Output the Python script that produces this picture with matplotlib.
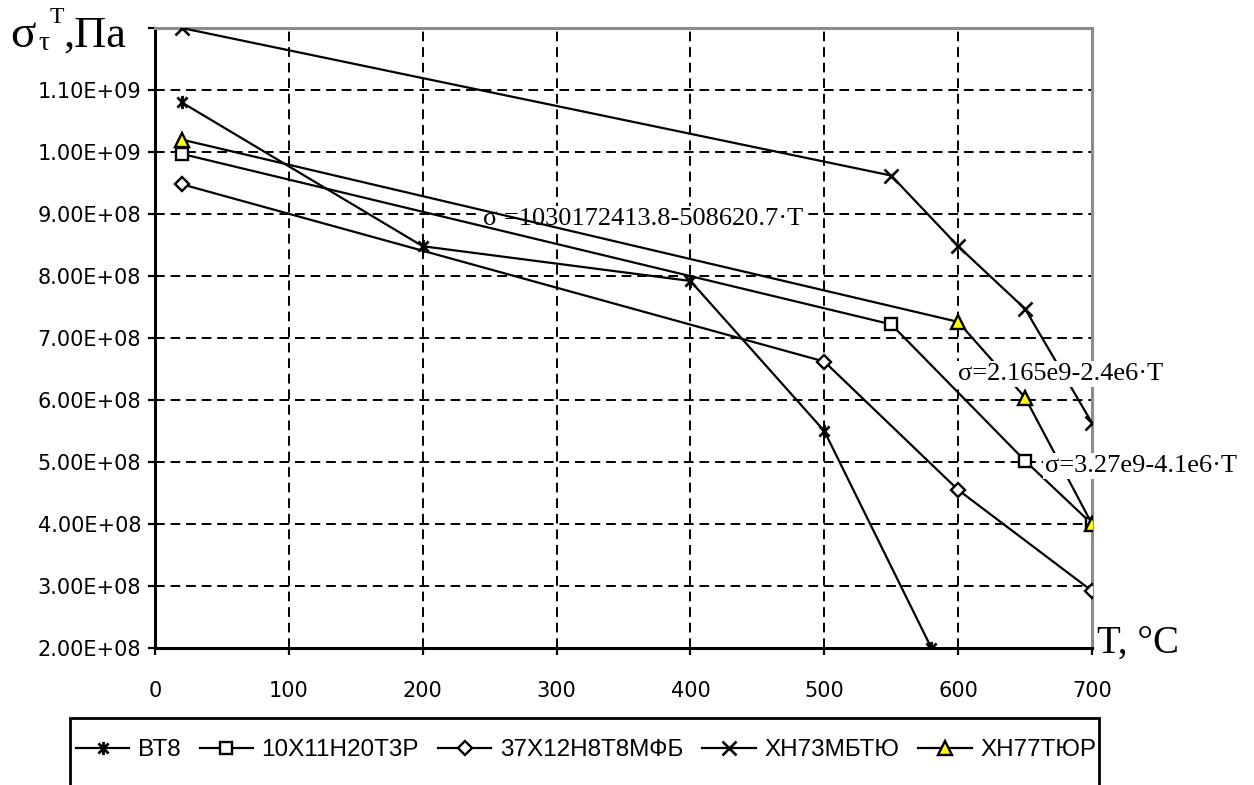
import matplotlib
matplotlib.use("Agg")
import matplotlib.pyplot as plt
from matplotlib.path import Path
from matplotlib.patches import Rectangle
from matplotlib.ticker import FixedLocator

# ---- data ----
t_vt8 = [20, 200, 400, 500, 580]
s_vt8 = [1.08e9, 8.48e8, 7.92e8, 5.5e8, 2.0e8]

t_10x = [20, 550, 650, 700]
s_10x = [9.97e8, 7.22e8, 5.02e8, 4.0e8]

t_37x = [20, 500, 600, 700]
s_37x = [9.48e8, 6.62e8, 4.55e8, 2.92e8]

t_xh73 = [20, 550, 600, 650, 700]
s_xh73 = [1.2e9, 9.62e8, 8.48e8, 7.47e8, 5.63e8]

t_xh77 = [20, 600, 650, 700]
s_xh77 = [1.02e9, 7.26e8, 6.04e8, 4.0e8]

labels = ["ВТ8", "10Х11Н20Т3Р", "37Х12Н8Т8МФБ", "ХН73МБТЮ", "ХН77ТЮР"]

x_ticks = [0, 100, 200, 300, 400, 500, 600, 700]
y_ticks = [2e8, 3e8, 4e8, 5e8, 6e8, 7e8, 8e8, 9e8, 1.0e9, 1.1e9, 1.2e9]

fits = [
    (245, 8.82e8, "σ =1030172413.8-508620.7·T", 1),
    (600, 6.32e8, "σ=2.165e9-2.4e6·T", 6),
    (665, 4.84e8, "σ=3.27e9-4.1e6·T", 6),
]

W, H = 1254, 785
sans = ["Liberation Sans", "DejaVu Sans"]
serif = ["Liberation Serif", "DejaVu Serif"]
plt.rcParams["font.family"] = sans

# Excel-style "star" marker: x with a vertical bar
star = Path([(-1, -1), (1, 1), (-1, 1), (1, -1), (0, -1.3), (0, 1.3)],
            [Path.MOVETO, Path.LINETO, Path.MOVETO, Path.LINETO,
             Path.MOVETO, Path.LINETO])

fig = plt.figure(figsize=(W / 100, H / 100), dpi=100)
ax = fig.add_axes([155 / W, 1 - 648 / H, (1092 - 155) / W, (648 - 28) / H])

lw = 1.6
h1, = ax.plot(t_vt8, s_vt8, color="black", lw=lw, marker=star, ms=9.5,
              mfc="none", mec="black", mew=2.0, label=labels[0], zorder=3)
h2, = ax.plot(t_10x, s_10x, color="black", lw=lw, marker="s", ms=8.5,
              mfc="white", mec="black", mew=1.7, label=labels[1], zorder=3)
h3, = ax.plot(t_37x, s_37x, color="black", lw=lw, marker="D", ms=7.5,
              mfc="white", mec="black", mew=1.7, label=labels[2], zorder=3)
h4, = ax.plot(t_xh73, s_xh73, color="black", lw=lw, marker="x", ms=10,
              mec="black", mew=1.9, label=labels[3], zorder=3)
h5, = ax.plot(t_xh77, s_xh77, color="black", lw=lw, marker="^", ms=10,
              mfc="#ffff00", mec="black", mew=1.7, label=labels[4], zorder=3)

ax.set_xlim(0, 700)
ax.set_ylim(2e8, 1.2e9)
ax.xaxis.set_major_locator(FixedLocator(x_ticks))
ax.yaxis.set_major_locator(FixedLocator(y_ticks))
ax.set_xticklabels([str(v) for v in x_ticks], family="DejaVu Sans")
ax.set_yticklabels(["{:.2E}".format(v) if v < 1.15e9 else "" for v in y_ticks],
                   family="DejaVu Sans")

ax.set_axisbelow(True)
ax.grid(True, color="black", lw=1.4, linestyle=(0, (5, 3)), zorder=0.5)

for side in ("left", "bottom"):
    ax.spines[side].set_color("black")
    ax.spines[side].set_linewidth(2.2)
for side in ("top", "right"):
    ax.spines[side].set_color("#8c8c8c")
    ax.spines[side].set_linewidth(2.2)

ax.tick_params(axis="y", length=5, width=1.6, direction="out", pad=5,
               labelsize=15)
ax.tick_params(axis="x", length=5, width=1.6, direction="out", pad=19,
               labelsize=15)

# fitted-line equations
for x, y, s, z in fits:
    ax.text(x, y, s, family=serif, fontsize=19, va="baseline", ha="left",
            zorder=z, clip_on=False,
            bbox=dict(facecolor="white", edgecolor="none", pad=1.5))

# axis titles drawn in pieces (sigma with sub/superscript)
fig.text(10 / W, 1 - 47 / H, "σ", family=serif, fontsize=34, va="baseline")
fig.text(38 / W, 1 - 50 / H, "τ", family=serif, fontsize=20, va="baseline")
fig.text(50 / W, 1 - 23 / H, "T", family=serif, fontsize=17, va="baseline")
fig.text(63 / W, 1 - 47 / H, ",Па", family=serif, fontsize=32, va="baseline")
fig.text(1097 / W, 1 - 653 / H, "T, °C", family=serif, fontsize=28,
         va="baseline")

# legend box, cut off by the bottom of the image as in the reference
fig.patches.append(Rectangle((70 / W, -0.05), (1099 - 70) / W,
                             0.05 + 1 - 718 / H, transform=fig.transFigure,
                             facecolor="white", edgecolor="black", lw=2.0))
fig.legend(handles=[h1, h2, h3, h4, h5], loc="center left", ncol=5,
           bbox_to_anchor=(76 / W, 1 - 750 / H), frameon=False,
           fontsize=17.5, handlelength=2.2, handletextpad=0.35,
           columnspacing=0.78, borderpad=0, borderaxespad=0)

fig.savefig("out.png", dpi=100)
